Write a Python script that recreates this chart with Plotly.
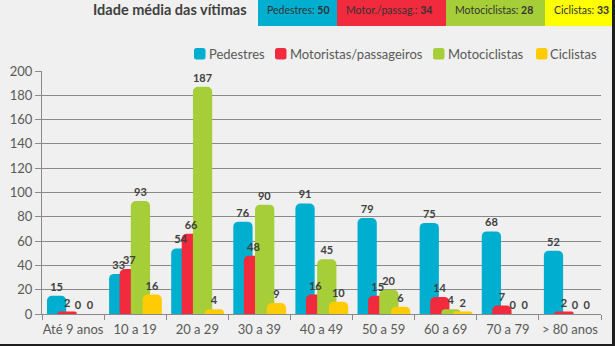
import plotly.graph_objects as go

# Age groups and victims per road-user category
faixas = ["Até 9 anos", "10 a 19", "20 a 29", "30 a 39", "40 a 49",
          "50 a 59", "60 a 69", "70 a 79", "> 80 anos"]
pedestres = [15, 33, 54, 76, 91, 79, 75, 68, 52]
motoristas = [2, 37, 66, 48, 16, 15, 14, 7, 2]
motociclistas = [0, 93, 187, 90, 45, 20, 4, 0, 0]
ciclistas = [0, 16, 4, 9, 10, 6, 2, 0, 0]

series_names = ["Pedestres", "Motoristas/passageiros", "Motociclistas", "Ciclistas"]
series_values = [pedestres, motoristas, motociclistas, ciclistas]
bar_colors = ["#00AECF", "#F12B3D", "#A6CE39", "#FFCB05"]

# Mean victim age per category (header strip)
media_labels = ["Pedestres:", "Motor./passag.:", "Motociclistas:", "Ciclistas:"]
media_values = [50, 34, 28, 33]
media_colors = ["#00AECF", "#F12B3D", "#A6CE39", "#FFFF00"]

W, H = 615, 346
ML, MR, MT, MB = 42, 14, 71, 32
PW, PH = W - ML - MR, H - MT - MB


def px(x):
    return (x - ML) / PW


def py(y):
    return (H - MB - y) / PH


def rounded_square(x0, y0, x1, y1, r):
    pts = [
        f"M{px(x0 + r)},{py(y0)}",
        f"L{px(x1 - r)},{py(y0)}",
        f"Q{px(x1)},{py(y0)} {px(x1)},{py(y0 + r)}",
        f"L{px(x1)},{py(y1 - r)}",
        f"Q{px(x1)},{py(y1)} {px(x1 - r)},{py(y1)}",
        f"L{px(x0 + r)},{py(y1)}",
        f"Q{px(x0)},{py(y1)} {px(x0)},{py(y1 - r)}",
        f"L{px(x0)},{py(y0 + r)}",
        f"Q{px(x0)},{py(y0)} {px(x0 + r)},{py(y0)}",
        "Z",
    ]
    return " ".join(pts)


FONT = "Lato"
LABEL_COLOR = "#404040"
AXIS_GRAY = "#8A8A8A"

offsets = [-0.42, -0.25, -0.07, 0.12]
bar_width = 0.31

fig = go.Figure()
# Coloured bars, overlapping within each age group
for name, vals, col, off in zip(series_names, series_values, bar_colors, offsets):
    fig.add_trace(go.Bar(
        x=faixas, y=vals, name=name,
        marker=dict(color=col, cornerradius=5, line=dict(width=0)),
        width=bar_width, offset=off, showlegend=False, hoverinfo="skip",
    ))
# Value labels on a transparent copy so they sit above every bar
for name, vals, off in zip(series_names, series_values, offsets):
    fig.add_trace(go.Bar(
        x=faixas, y=vals, name=name,
        marker=dict(color="rgba(0,0,0,0)", line=dict(width=0)),
        width=bar_width, offset=off,
        text=vals, texttemplate="%{y}", textposition="outside",
        constraintext="none", cliponaxis=False,
        textfont=dict(family=FONT, size=11, color=LABEL_COLOR, weight="bold"),
        showlegend=False,
    ))

shapes = []
annotations = []

# Legend row drawn above the plot area
legend_items = [(194, 207), (275, 288), (433, 446), (536, 548)]
for (sq_x, tx_x), name, col in zip(legend_items, series_names, bar_colors):
    shapes.append(dict(type="path", xref="paper", yref="paper",
                       path=rounded_square(sq_x, 48, sq_x + 11.5, 59.5, 2.5),
                       fillcolor=col, line=dict(width=0)))
    annotations.append(dict(xref="paper", yref="paper", x=px(tx_x), y=py(53.5),
                            xanchor="left", yanchor="middle", showarrow=False,
                            text=name, font=dict(family=FONT, size=13, color="#595959")))

# Header: title and mean-age boxes
annotations.append(dict(xref="paper", yref="paper", x=px(249), y=py(10),
                        xanchor="right", yanchor="middle", showarrow=False,
                        text="<b>Idade média das vítimas</b>",
                        font=dict(family=FONT, size=14.5, color="#404040")))
box_edges = [258, 337, 446, 545, 615]
for i, (lab, val, col) in enumerate(zip(media_labels, media_values, media_colors)):
    x0, x1 = box_edges[i], box_edges[i + 1]
    shapes.append(dict(type="rect", xref="paper", yref="paper",
                       x0=px(x0), x1=px(x1), y0=py(0), y1=py(26),
                       fillcolor=col, line=dict(width=0), layer="below"))
    annotations.append(dict(xref="paper", yref="paper", x=px(x0 + 7), y=py(10),
                            xanchor="left", yanchor="middle", showarrow=False,
                            text=f"{lab} <b>{val}</b>",
                            font=dict(family=FONT, size=10.5, color="#333333")))

# Dark frame on the right and bottom edges
shapes.append(dict(type="line", xref="paper", yref="paper",
                   x0=px(613.5), x1=px(613.5), y0=py(0), y1=py(346),
                   line=dict(color="#1E1E1E", width=3)))
shapes.append(dict(type="line", xref="paper", yref="paper",
                   x0=px(0), x1=px(615), y0=py(345), y1=py(345),
                   line=dict(color="#1E1E1E", width=2)))

fig.update_layout(
    width=W, height=H,
    margin=dict(l=ML, r=MR, t=MT, b=MB, pad=0),
    paper_bgcolor="#F0F0F0", plot_bgcolor="#F0F0F0",
    barmode="overlay",
    font=dict(family=FONT, color="#595959"),
    shapes=shapes, annotations=annotations,
    xaxis=dict(
        type="category", tickson="boundaries", ticks="outside", ticklen=5,
        tickcolor=AXIS_GRAY, showline=True, linecolor=AXIS_GRAY, linewidth=1,
        showgrid=False, tickfont=dict(family=FONT, size=13, color="#595959"),
        tickangle=0, automargin=False, fixedrange=True, ticklabelstandoff=3,
    ),
    yaxis=dict(
        range=[0, 200], dtick=20, ticks="outside", ticklen=6,
        tickcolor=AXIS_GRAY, showline=True, linecolor=AXIS_GRAY, linewidth=1,
        gridcolor=AXIS_GRAY, gridwidth=1, zeroline=False,
        tickfont=dict(family=FONT, size=13, color="#595959"),
        automargin=False, fixedrange=True,
    ),
)

fig.write_html("out.html")
